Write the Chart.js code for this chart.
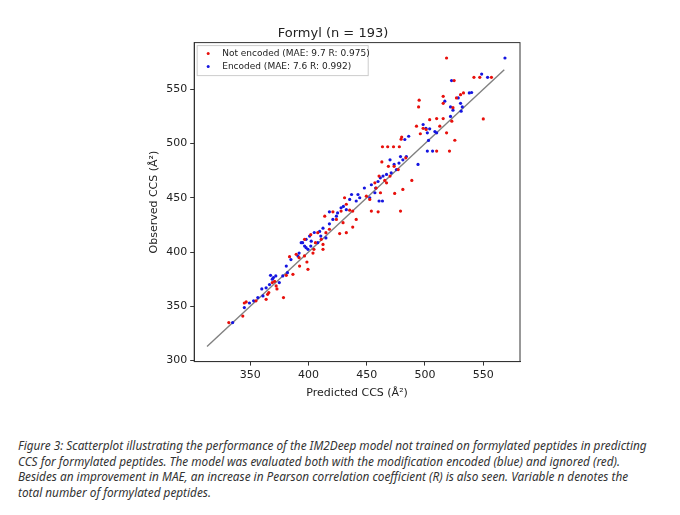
<!DOCTYPE html>
<html>
<head>
<meta charset="utf-8">
<script src="https://cdn.jsdelivr.net/npm/chart.js@4"></script>
<style>
  body { margin: 0; background: #fff; width: 680px; height: 515px; overflow: hidden; }
  #wrap { position: relative; width: 680px; height: 410px; }
  #caption { position: absolute; left: 18px; top: 438px; font-family: "Noto Sans", sans-serif;
    font-style: italic; font-size: 11.8px; line-height: 15.5px; color: #333; white-space: nowrap; }
</style>
</head>
<body>
<div id="wrap"><canvas id="chart" width="680" height="410"></canvas></div>
<div id="caption">Figure 3: Scatterplot illustrating the performance of the IM2Deep model not trained on formylated peptides in predicting<br>CCS for formylated peptides. The model was evaluated both with the modification encoded (blue) and ignored (red).<br>Besides an improvement in MAE, an increase in Pearson correlation coefficient (R) is also seen. Variable n denotes the<br>total number of formylated peptides.</div>
<script>
const seriesLabels = ['Not encoded (MAE: 9.7 R: 0.975)', 'Encoded (MAE: 7.6 R: 0.992)'];
const notEncoded = [
  [518.5,578.8],[550,522.7],[495,539.9],[494.5,533.7],[542,561],[547,561],[557,561],[525,558],
  [530.5,545],[524,533],[515.6,523],[510,523],[523,520.6],[525.6,503],[521,493],[510,493],
  [496,509],[492.7,516],[480,506],[479.5,504],[463.5,497],[468,497],[473,497],[478,497],
  [463,483],[468.6,479],[473.5,479],[465.5,466],[488.7,466],[481,457.7],[474,454],[460.6,470],
  [461.8,454.6],[454,437.7],[459.8,437],[479,437.7],[452.6,448.5],[431,450],[432.5,444],[428,437.7],
  [435.4,438.6],[438,437.7],[414,433],[421,437],[424,430],[429.7,427],[438,423],[432.5,417.8],
  [426.8,417],[415,417.8],[408,417.8],[402,416],[396.7,411.7],[404.7,402.5],[412.5,402.5],[403.9,399],
  [389.5,397.9],[383.8,395.7],[398.7,390.8],[392.4,387],[399.6,384],[386.7,379.4],[381,378.5],[371,373],
  [369,371.8],[366,362.6],[373,366],[365,361],[363.7,356.4],[378.6,358],[372.3,368.7],[346.6,354],
  [343.7,341],[345,353],[331.7,335],[355,355],[396.6,396.4],[412.5,407],[392,394.8],[406,408.6],
  [411,411.7],[418,421],[441,430],[449.7,451.5],[458,459],[457,463.8],[470,470],[467,463.8],
  [477,476],[483.5,486.8],[504,522],[498.4,514],[501,512.9],[515.6,543.5],[527,542],[533,546.6],
  [515.6,537],[518.5,509.8],[512.7,516]
];
const encoded = [
  [568.6,578.8],[548.6,564],[553.7,561],[522.8,558],[538,546.6],[540,547],[528.5,542],[530.5,537],
  [521.9,533.7],[517,539],[524,530.7],[531,529.8],[532,533.7],[521.9,525],[498.4,517.5],[500.8,514],
  [504,513.5],[508.5,511],[502,509.8],[503,502.8],[510,509.8],[502,493],[506.5,493],[486,506.7],
  [482.7,503.7],[494,480.7],[484,488],[481,485],[479,488],[477.7,482],[473.5,480.7],[470,485],
  [467,471.5],[461.7,468.4],[459.7,465],[457.7,459],[454,462],[471,473],[464,470],[475.5,476],
  [460.6,447],[463.5,447],[457,454.6],[452.6,450],[448,459],[444,450],[441,447],[435.4,448.5],
  [437,453],[442.5,453],[430,442],[432.5,439],[425,436],[428,440.8],[421,430],[418,426],
  [412.5,422],[409.6,419],[405,418],[401,414.7],[398,411.7],[395,408.6],[399.6,402.5],[402,405.5],
  [408,408.6],[398,404],[392,399],[391,396.3],[385,393],[381,387],[382,381],[378,378],
  [372,378],[369,375],[366.6,370],[363.7,367],[360,366],[361,359.5],[356.6,358],[353,355],
  [349.4,353],[345,348.8],[335,335],[424,433],[418,437],[410.6,414.7],[415,413],[402.4,410],
  [396.7,405.5],[393.8,408.6],[375,371.8],[370,376.4],[367.5,378.5]
];
const identityLine = [[313, 313], [568, 568]];
const xTicks = [350, 400, 450, 500, 550];
const yTicks = [300, 350, 400, 450, 500, 550];

const toPts = arr => arr.map(([x, y]) => ({ x, y }));

// Marco completo y leyenda dentro del área
const framePlugin = {
  id: 'frame',
  afterDraw(chart) {
    const { ctx, chartArea: a } = chart;
    ctx.save();
    ctx.strokeStyle = '#333';
    ctx.lineWidth = 1;
    ctx.strokeRect(a.left, a.top, a.right - a.left, a.bottom - a.top);
    // leyenda
    const bx = a.left + 3, by = a.top + 3;
    ctx.fillStyle = 'rgba(255,255,255,0.9)';
    ctx.strokeStyle = '#ccc';
    ctx.fillRect(bx, by, 171, 30);
    ctx.strokeRect(bx, by, 171, 30);
    ctx.font = '9px "DejaVu Sans", sans-serif';
    ctx.textBaseline = 'middle';
    [0, 1].forEach(i => {
      const ds = chart.data.datasets[i];
      const yy = by + 8 + i * 13;
      ctx.fillStyle = ds.backgroundColor;
      ctx.beginPath(); ctx.arc(bx + 11, yy, 1.5, 0, Math.PI * 2); ctx.fill();
      ctx.fillStyle = '#222';
      ctx.fillText(ds.label, bx + 25, yy);
    });
    ctx.restore();
  }
};

const tickCfg = vals => ({
  afterBuildTicks: axis => { axis.ticks = vals.map(v => ({ value: v })); },
  ticks: { color: '#222', font: { size: 11, family: '"DejaVu Sans", sans-serif' } },
  grid: { drawOnChartArea: false, tickLength: 4, color: '#333' },
  border: { color: '#333' }
});

new Chart(document.getElementById('chart'), {
  type: 'scatter',
  data: {
    datasets: [
      { label: seriesLabels[0], data: toPts(notEncoded), backgroundColor: '#e8100c', borderWidth: 0, pointRadius: 1.6 },
      { label: seriesLabels[1], data: toPts(encoded), backgroundColor: '#1515e0', borderWidth: 0, pointRadius: 1.6 },
      { type: 'line', label: 'y = x', data: toPts(identityLine), borderColor: '#808080', borderWidth: 1.4, pointRadius: 0, order: 3 }
    ]
  },
  options: {
    responsive: false,
    animation: false,
    layout: { padding: { left: 146, right: 160, top: 0, bottom: 8 } },
    plugins: {
      legend: { display: false },
      tooltip: { enabled: false },
      title: { display: true, text: 'Formyl (n = 193)', color: '#222',
        font: { size: 13, weight: 'normal', family: '"DejaVu Sans", sans-serif' }, padding: { top: 26, bottom: 1 } }
    },
    scales: {
      x: Object.assign(tickCfg(xTicks), { min: 302, max: 581.5,
        title: { display: true, text: 'Predicted CCS (Å²)', color: '#222', font: { size: 11, family: '"DejaVu Sans", sans-serif' }, padding: 2 } }),
      y: Object.assign(tickCfg(yTicks), { min: 299, max: 593,
        title: { display: true, text: 'Observed CCS (Å²)', color: '#222', font: { size: 11, family: '"DejaVu Sans", sans-serif' }, padding: 2 } })
    }
  },
  plugins: [framePlugin]
});
</script>
</body>
</html>
